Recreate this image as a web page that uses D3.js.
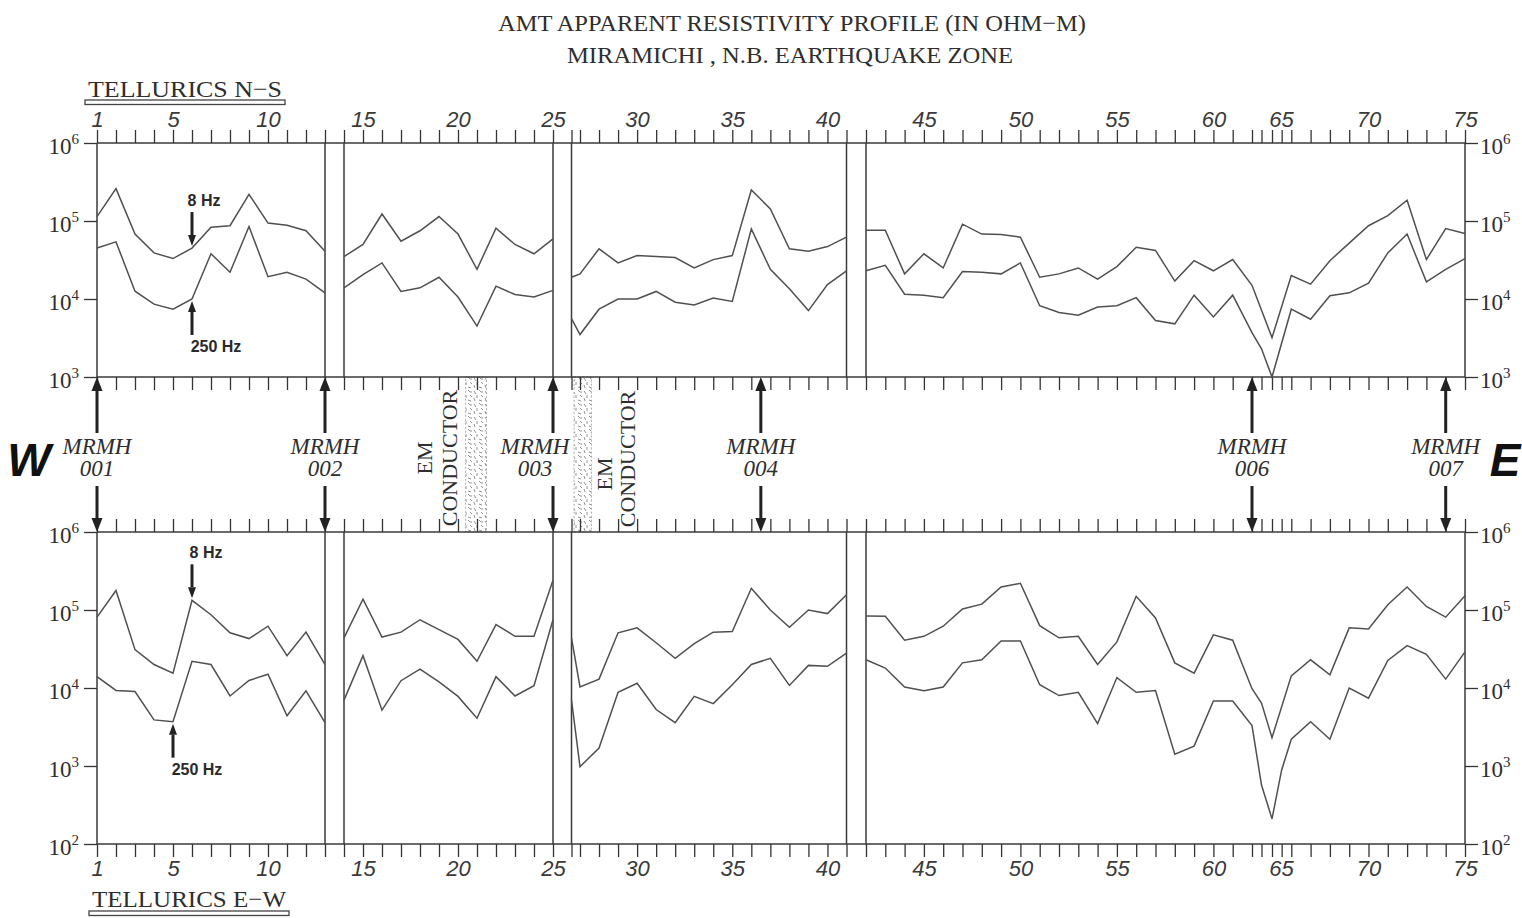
<!DOCTYPE html>
<html>
<head>
<meta charset="utf-8">
<title>AMT apparent resistivity profile</title>
<script src="https://cdn.jsdelivr.net/npm/d3@7.9.0/dist/d3.min.js"></script>
<style>
  body { margin: 0; background: #fff; }
  svg { display: block; background: #fff; }
  .frame { stroke: #3a3a3a; stroke-width: 1.5; fill: none; }
  .curve { stroke: #505050; stroke-width: 1.5; fill: none; }
  .serif { font-family: "Liberation Serif", "DejaVu Serif", serif; fill: #2e2e2e; }
  .hz { font-family: "Liberation Sans", Arial, sans-serif; font-weight: bold; font-size: 16px; fill: #2a2a2a; }
</style>
</head>
<body>
<svg id="chart" width="1522" height="918"></svg>
<script>
// station numbers along the line (64 and 65.5 are the squeezed sites near the low)
const stations = [1, 2, 3, 4, 5, 6, 7, 8, 9, 10, 11, 12, 13,
  14, 15, 16, 17, 18, 19, 20, 21, 22, 23, 24, 25,
  26, 27, 28, 29, 30, 31, 32, 33, 34, 35, 36, 37, 38, 39, 40, 41,
  42, 43, 44, 45, 46, 47, 48, 49, 50, 51, 52, 53, 54, 55, 56, 57, 58, 59, 60, 61, 62,
  64, 65, 65.5,
  66, 67, 68, 69, 70, 71, 72, 73, 74, 75];

// tellurics N-S, apparent resistivity in ohm-m
const nsHigh = [114000, 260000, 68000, 39000, 33000, 45000, 83000, 87000, 220000, 94000, 88000, 75000, 41000,
  35000, 50000, 123000, 55000, 75000, 114000, 68000, 24000, 81000, 50000, 38000, 59000,
  19000, 21000, 44000, 29000, 36000, 35000, 34000, 25000, 32000, 36000, 250000, 143000, 44000, 41000, 47000, 62000,
  76000, 76000, 21000, 38000, 25000, 91000, 68000, 67000, 62000, 19000, 21000, 25000, 18000, 26000, 46000, 42000, 17000, 31000, 23000, 32000, 15000,
  null, 3200, null,
  20000, 15500, 31000, 52000, 87000, 117000, 185000, 32000, 80000, 69000];
const nsLow = [45000, 54000, 12600, 8600, 7400, 10000, 38000, 22000, 85000, 19300, 22000, 18000, 12000,
  13900, 20600, 29000, 12500, 13900, 19000, 10600, 4500, 14600, 11400, 10600, 12900,
  5600, 3500, 7400, 10000, 10000, 12500, 9100, 8400, 10300, 9300, 79000, 24000, 13500, 7100, 15300, 23000,
  23000, 27000, 11500, 11200, 10400, 22500, 22000, 21000, 29000, 8200, 6700, 6200, 7900, 8200, 10400, 5300, 4800, 11200, 5900, 11200, 3700,
  2300, 1000, null,
  7400, 5500, 11000, 12000, 16000, 39000, 68000, 16600, 24000, 33000];

// tellurics E-W
const ewHigh = [81000, 178000, 31000, 20000, 15500, 133000, 87000, 51000, 43000, 62000, 26000, 52000, 20000,
  44000, 138000, 45000, 52000, 75000, 56000, 42000, 22000, 65000, 46000, 46000, 240000,
  44000, 10300, 13000, 51000, 59000, 38000, 24000, 37000, 52000, 53000, 190000, 100000, 60000, 100000, 90000, 157000,
  84000, 83000, 41000, 46000, 62000, 103000, 119000, 197000, 220000, 63000, 44000, 46000, 20000, 39000, 150000, 79000, 21000, 15500, 48000, 41000, 9800,
  6400, 2300, null,
  14300, 23000, 14800, 59000, 57000, 117000, 197000, 111000, 81000, 152000];
const ewLow = [14000, 9300, 9000, 3900, 3700, 22000, 20000, 7900, 12500, 15000, 4400, 9200, 3600,
  7000, 26000, 5200, 12400, 17500, 12000, 7800, 4100, 14000, 7900, 10700, 75000,
  7000, 980, 1700, 8800, 11500, 5300, 3600, 7800, 6300, 11000, 20000, 24000, 10800, 19500, 19000, 28000,
  23000, 18000, 10300, 9200, 10300, 21000, 23000, 40000, 40000, 11000, 8000, 8800, 3500, 13600, 8800, 9300, 1420, 1800, 6800, 6800, 3300,
  570, 210, 890,
  2200, 3700, 2200, 10000, 7400, 22500, 35000, 27000, 13000, 29000];

const segments = [[1, 13], [14, 25], [26, 41], [42, 75]];
const labelStations = [1, 5, 10, 15, 20, 25, 30, 35, 40, 45, 50, 55, 60, 65, 70, 75];
const decadesNS = [1e3, 1e4, 1e5, 1e6];
const decadesEW = [1e2, 1e3, 1e4, 1e5, 1e6];

const holeNames = ['001', '002', '003', '004', '006', '007'];
const holeStations = [1, 13, 25, 36.5, 62, 74];
const conductorBands = [[20.4, 21.5], [26.3, 27.6]];

const svg = d3.select('#chart');

// the drafted station axis is not evenly spaced, so use a piecewise scale
const x = d3.scaleLinear()
  .domain([1, 13, 14, 25, 26, 27, 41, 42, 62, 64, 65, 75])
  .range([97, 325, 344, 553, 571.5, 580, 846.5, 866, 1252, 1261.5, 1272, 1465]);

const yNS = d3.scaleLog().domain([1e3, 1e6]).range([377, 143]);
const yEW = d3.scaleLog().domain([1e2, 1e6]).range([844, 532]);

// stipple pattern for the conductor bands
const pat = svg.append('defs').append('pattern')
  .attr('id', 'stipple').attr('patternUnits', 'userSpaceOnUse')
  .attr('width', 11).attr('height', 13);
[[1, 1, 3, 4], [6, 0, 8, 2], [4, 5, 4, 8], [8, 5, 10, 7], [1, 8, 2, 11], [6, 10, 9, 11], [9, 1, 9, 3]]
  .forEach(s => pat.append('line')
    .attr('x1', s[0]).attr('y1', s[1]).attr('x2', s[2]).attr('y2', s[3])
    .attr('stroke', '#888').attr('stroke-width', 0.9));

conductorBands.forEach(([a, b]) => {
  svg.append('rect')
    .attr('x', x(a)).attr('width', x(b) - x(a))
    .attr('y', yNS(1e3)).attr('height', yEW(1e6) - yNS(1e3))
    .attr('fill', 'url(#stipple)')
    .attr('stroke', '#999').attr('stroke-dasharray', '2,2').attr('stroke-width', 0.8);
});

const labelSet = new Set(labelStations);

function stationAxis(axisFn, yPos, withLabels) {
  const g = svg.append('g')
    .attr('transform', `translate(0,${yPos})`)
    .call(axisFn(x).tickValues(stations).tickSizeInner(13).tickSizeOuter(0).tickPadding(3)
      .tickFormat(d => withLabels && labelSet.has(d) ? d : ''));
  g.select('.domain').remove();
  g.attr('color', '#333')
    .attr('font-family', '"Liberation Sans", Arial, sans-serif')
    .attr('font-size', 22).attr('font-style', 'italic');
  g.selectAll('line').attr('stroke-width', 1.3);
  // the hand-lettered "65" sits a little right of its tick
  g.selectAll('.tick').filter(d => d === 65).select('text').attr('dx', 9);
  g.selectAll('text').attr('fill', '#3a3a3a');
}

function profile(y, hi, lo, decades, topLabels, bottomLabels) {
  const [yBottom, yTopPx] = y.range();

  // horizontal frame lines
  [yTopPx, yBottom].forEach(yy => {
    svg.append('line').attr('class', 'frame')
      .attr('x1', x(1)).attr('x2', x(75)).attr('y1', yy).attr('y2', yy);
  });
  // segment borders
  segments.forEach(([a, b]) => {
    [a, b].forEach(s => svg.append('line').attr('class', 'frame')
      .attr('x1', x(s)).attr('x2', x(s)).attr('y1', yTopPx).attr('y2', yBottom));
  });

  stationAxis(d3.axisTop, yTopPx, topLabels);
  stationAxis(d3.axisBottom, yBottom, bottomLabels);

  // decade ticks both sides
  [[d3.axisLeft, x(1)], [d3.axisRight, x(75)]].forEach(([fn, xx]) => {
    const g = svg.append('g').attr('transform', `translate(${xx},0)`)
      .call(fn(y).tickValues(decades).tickSizeInner(13).tickSizeOuter(0).tickFormat(''));
    g.select('.domain').remove();
    g.attr('color', '#333');
    g.selectAll('line').attr('stroke-width', 1.3);
  });

  // decade labels with superscript exponent
  decades.forEach(d => {
    [[x(1) - 18, 'end'], [x(75) + 15, 'start']].forEach(([xx, anchor]) => {
      const t = svg.append('text').attr('class', 'serif')
        .attr('x', xx).attr('y', y(d) + 11).attr('text-anchor', anchor)
        .attr('font-size', 23);
      t.append('tspan').text('10');
      t.append('tspan').attr('dy', -10).attr('font-size', 15).text(Math.round(Math.log10(d)));
    });
  });

  // resistivity curves, one path per segment
  const line = d3.line().x(d => x(d[0])).y(d => y(d[1]));
  [hi, lo].forEach(vals => {
    segments.forEach(([a, b]) => {
      const pts = stations.map((s, i) => [s, vals[i]])
        .filter(([s, v]) => s >= a && s <= b && v != null);
      svg.append('path').attr('class', 'curve').attr('d', line(pts));
    });
  });
}

profile(yNS, nsHigh, nsLow, decadesNS, true, false);
profile(yEW, ewHigh, ewLow, decadesEW, false, true);

function arrow(x0, yFrom, yTip, width, headW, headL) {
  const dir = yTip > yFrom ? 1 : -1;
  svg.append('line')
    .attr('x1', x0).attr('x2', x0).attr('y1', yFrom).attr('y2', yTip - dir * headL)
    .attr('stroke', '#222').attr('stroke-width', width);
  svg.append('path')
    .attr('d', `M${x0 - headW / 2},${yTip - dir * headL}L${x0 + headW / 2},${yTip - dir * headL}L${x0},${yTip}Z`)
    .attr('fill', '#222');
}

// frequency call-outs
function hzNote(xs, tipY, down, label, dxLabel) {
  const len = 34;
  if (down) {
    arrow(xs, tipY - len, tipY, 3, 8, 11);
    svg.append('text').attr('class', 'hz').attr('x', xs + dxLabel).attr('y', tipY - len - 6)
      .attr('text-anchor', 'middle').text(label);
  } else {
    arrow(xs, tipY + len, tipY, 3, 8, 11);
    svg.append('text').attr('class', 'hz').attr('x', xs + dxLabel).attr('y', tipY + len + 17)
      .attr('text-anchor', 'middle').text(label);
  }
}
const iOf = s => stations.indexOf(s);
hzNote(x(6), yNS(nsHigh[iOf(6)]) - 2, true, '8 Hz', 12);
hzNote(x(6), yNS(nsLow[iOf(6)]) + 2, false, '250 Hz', 24);
hzNote(x(6), yEW(ewHigh[iOf(6)]) - 2, true, '8 Hz', 14);
hzNote(x(5), yEW(ewLow[iOf(5)]) + 2, false, '250 Hz', 24);

// borehole markers between the profiles
holeNames.forEach((name, i) => {
  const xs = x(holeStations[i]);
  arrow(xs, 433, yNS(1e3), 3, 11, 14);
  arrow(xs, 486, yEW(1e6), 3, 11, 14);
  const lx = name === '003' ? xs - 18 : xs;
  const t = svg.append('text').attr('class', 'serif').attr('font-style', 'italic')
    .attr('font-size', 23).attr('text-anchor', 'middle');
  t.append('tspan').attr('x', lx).attr('y', 454).text('MRMH');
  t.append('tspan').attr('x', lx).attr('y', 476).text(name);
});

// EM conductor notes (rotated)
function conductorText(bx, cy, label) {
  svg.append('text').attr('class', 'serif').attr('font-size', 22)
    .attr('text-anchor', 'middle')
    .attr('transform', `translate(${bx},${cy}) rotate(-90)`)
    .text(label);
}
conductorText(x(conductorBands[0][0]) - 34, 458, 'EM');
conductorText(x(conductorBands[0][0]) - 9, 458, 'CONDUCTOR');
conductorText(x(conductorBands[1][1]) + 21, 474, 'EM');
conductorText(x(conductorBands[1][1]) + 44, 459, 'CONDUCTOR');

// W / E
svg.append('text').attr('x', 29).attr('y', 476).attr('text-anchor', 'middle')
  .attr('font-family', '"Liberation Sans", Arial, sans-serif').attr('font-weight', 'bold')
  .attr('font-style', 'italic').attr('font-size', 46).attr('fill', '#111').text('W');
svg.append('text').attr('x', 1505).attr('y', 476).attr('text-anchor', 'middle')
  .attr('font-family', '"Liberation Sans", Arial, sans-serif').attr('font-weight', 'bold')
  .attr('font-style', 'italic').attr('font-size', 46).attr('fill', '#111').text('E');

// titles
svg.append('text').attr('class', 'serif').attr('x', 498).attr('y', 31)
  .attr('font-size', 24).attr('textLength', 588).attr('lengthAdjust', 'spacingAndGlyphs')
  .text('AMT APPARENT RESISTIVITY  PROFILE (IN OHM−M)');
svg.append('text').attr('class', 'serif').attr('x', 567).attr('y', 63)
  .attr('font-size', 24).attr('textLength', 446).attr('lengthAdjust', 'spacingAndGlyphs')
  .text('MIRAMICHI , N.B.  EARTHQUAKE  ZONE');

// tellurics captions with double underline
function caption(x0, baseY, w, label, barY) {
  svg.append('text').attr('class', 'serif').attr('x', x0).attr('y', baseY)
    .attr('font-size', 24).attr('textLength', w).attr('lengthAdjust', 'spacingAndGlyphs')
    .text(label);
  svg.append('rect').attr('x', x0 - 3).attr('y', barY).attr('width', w + 6).attr('height', 4.5)
    .attr('fill', 'none').attr('stroke', '#444').attr('stroke-width', 1.3);
}
caption(88, 97, 194, 'TELLURICS   N−S', 100);
caption(92, 907, 194, 'TELLURICS   E−W', 911);
</script>
</body>
</html>
